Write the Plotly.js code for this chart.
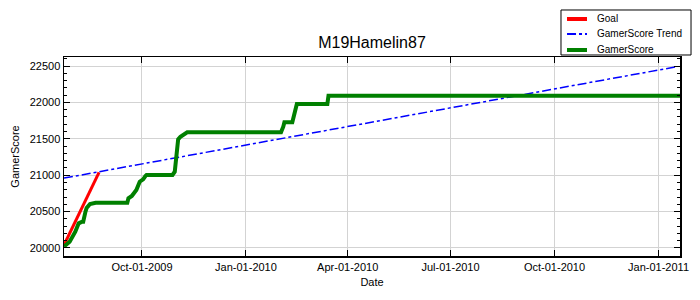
<!DOCTYPE html>
<html>
<head>
<meta charset="utf-8">
<script src="https://cdn.plot.ly/plotly-3.0.1.min.js"></script>
<style>html,body{margin:0;padding:0;background:#fff;}#chart{width:700px;height:300px;}</style>
</head>
<body>
<div id="chart"></div>
<script>
// Goal line
var goalDates = ["2009-07-24", "2009-08-24"];
var goalValues = [20040, 21040];

// Trend line
var trendDates = ["2009-07-24", "2011-01-17"];
var trendValues = [20960, 22490];

// GamerScore
var scoreDates = [
  "2009-07-24", "2009-07-29", "2009-08-03", "2009-08-06", "2009-08-09", "2009-08-10",
  "2009-08-12", "2009-08-13", "2009-08-16", "2009-08-21", "2009-09-18", "2009-09-19",
  "2009-09-22", "2009-09-24", "2009-09-26", "2009-09-29", "2009-10-02", "2009-10-04",
  "2009-10-05", "2009-10-28", "2009-10-30", "2009-11-02", "2009-11-04", "2009-11-10",
  "2010-02-01", "2010-02-03", "2010-02-04", "2010-02-11", "2010-02-15", "2010-03-14",
  "2010-03-15", "2011-01-20"
];
var scoreValues = [
  20020, 20087, 20224, 20339, 20361, 20361,
  20499, 20549, 20604, 20622, 20622, 20683,
  20714, 20751, 20797, 20911, 20944, 20989,
  21003, 21003, 21048, 21493, 21529, 21589,
  21589, 21666, 21727, 21727, 21978, 21978,
  22090, 22090
];

var seriesNames = ["Goal", "GamerScore Trend", "GamerScore"];
var seriesColors = ["#ff0000", "#0000ff", "#008000"];
var seriesDash = ["solid", "dashdot", "solid"];
var seriesWidths = [3, 1.5, 4];

var xs = [goalDates, trendDates, scoreDates];
var ys = [goalValues, trendValues, scoreValues];

var traces = xs.map(function (x, i) {
  return {x: x, y: ys[i], name: seriesNames[i], type: "scatter", mode: "lines",
          line: {color: seriesColors[i], width: seriesWidths[i], dash: seriesDash[i]}};
});

// custom legend (compact, like the reference)
var shapes = [{type: "rect", xref: "paper", yref: "paper", x0: 0.8068, x1: 1.0179, y0: 1.0101, y1: 1.2362,
               line: {color: "#000", width: 1}, fillcolor: "#ffffff", layer: "above"}];
var annotations = [];
var legY = [1.191, 1.1156, 1.0352];
seriesNames.forEach(function (n, i) {
  shapes.push({type: "line", xref: "paper", yref: "paper", x0: 0.8166, x1: 0.849, y0: legY[i], y1: legY[i],
               line: {color: seriesColors[i], width: i === 1 ? 2 : 4, dash: seriesDash[i]}, layer: "above"});
  annotations.push({xref: "paper", yref: "paper", x: 0.862, y: legY[i], xanchor: "left", yanchor: "middle",
                    text: n, showarrow: false, font: {size: 10, color: "#000"}});
});

var layout = {
  width: 700, height: 300,
  margin: {l: 64, r: 20, t: 57, b: 44},
  paper_bgcolor: "#ffffff", plot_bgcolor: "#ffffff",
  font: {family: "Liberation Sans, Arial, sans-serif", size: 11, color: "#000"},
  title: {text: "M19Hamelin87", font: {size: 16, color: "#000"}, xref: "paper", x: 0.5, xanchor: "center", y: 0.86, yanchor: "middle"},
  showlegend: false,
  shapes: shapes,
  annotations: annotations,
  hovermode: false,
  xaxis: {
    type: "date", range: ["2009-07-24", "2011-01-20"],
    tick0: "2009-10-01", dtick: "M3", tickformat: "%b-%d-%Y",
    ticks: "inside", ticklen: 6, tickcolor: "#000",
    showline: true, linecolor: "#000", linewidth: 1.5, mirror: "ticks",
    showgrid: true, gridcolor: "#d3d3d3", gridwidth: 1, zeroline: false,
    title: {text: "Date", font: {size: 11}, standoff: 6},
    tickfont: {size: 11}
  },
  yaxis: {
    range: [19890, 22624], tick0: 20000, dtick: 500, tickformat: "d",
    ticks: "inside", ticklen: 6, tickcolor: "#000",
    minor: {dtick: 100, ticks: "inside", ticklen: 3, tickcolor: "#000", showgrid: false},
    showline: true, linecolor: "#000", linewidth: 1.5, mirror: "ticks",
    showgrid: true, gridcolor: "#d3d3d3", gridwidth: 1, zeroline: false,
    title: {text: "GamerScore", font: {size: 11}, standoff: 8},
    tickfont: {size: 11}
  }
};

Plotly.newPlot("chart", traces, layout, {displayModeBar: false, staticPlot: true});
</script>
</body>
</html>
